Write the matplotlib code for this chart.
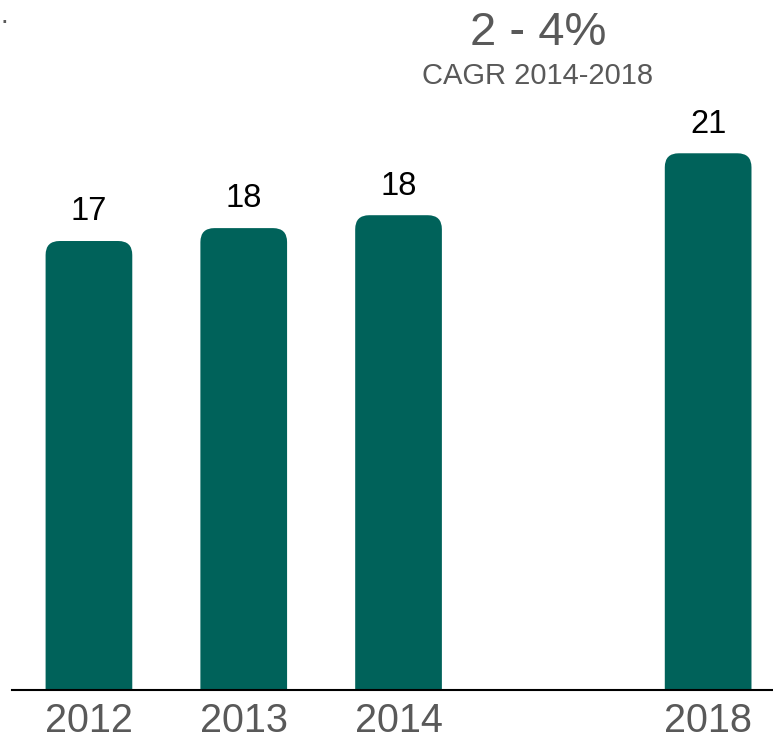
import numpy as np
import matplotlib
matplotlib.use("Agg")
import matplotlib.pyplot as plt
from matplotlib.patches import FancyBboxPatch

plt.rcParams['font.family'] = ['Liberation Sans', 'DejaVu Sans']

### Data
years = ['2012', '2013', '2014', '2018']
slots = [0, 1, 2, 4]
values = [17.4, 17.9, 18.4, 20.8]
value_labels = ['17', '18', '18', '21']
cagr_text = '2 - 4%'
cagr_sub = 'CAGR 2014-2018'

bar_color = '#00625A'
grey = '#595959'

fig = plt.figure(figsize=(7.73, 7.35), dpi=100)
ax = fig.add_axes([12 / 773, 45 / 735, 1 - 12 / 773, 690 / 735])
ax.set_xlim(-0.497, 4.419)
ax.set_ylim(0, 26.74)

width = 0.56
bars = ax.bar(slots, values, width=width, color=bar_color)

# swap plain bars for ones with rounded top corners
px_x = (ax.get_xlim()[1] - ax.get_xlim()[0]) / 761
px_y = (ax.get_ylim()[1] - ax.get_ylim()[0]) / 690
aspect = px_y / px_x
for b in bars:
    b.set_visible(False)
    x0, w, h = b.get_x(), b.get_width(), b.get_height()
    patch = FancyBboxPatch((x0, -2), w, h + 2,
                           boxstyle="round,pad=0,rounding_size=%f" % (14 * px_x),
                           mutation_aspect=aspect,
                           fc=bar_color, ec='none')
    ax.add_patch(patch)

for s, v, lab in zip(slots, values, value_labels):
    ax.annotate(lab, (s, v), xytext=(0, 21), textcoords='offset points',
                ha='center', va='center', fontsize=23.5, color='black')

ax.set_xticks(slots)
ax.set_xticklabels(years, fontsize=28.5, color=grey)
ax.tick_params(axis='x', length=0, pad=9)
ax.set_yticks([])
for side in ['top', 'right', 'left']:
    ax.spines[side].set_visible(False)
ax.spines['bottom'].set_linewidth(1.5)
ax.spines['bottom'].set_color('black')

fig.text(538 / 773, 1 - 33 / 735, cagr_text, ha='center', va='center',
         fontsize=34, color=grey)
fig.text(538 / 773, 1 - 76 / 735, cagr_sub, ha='center', va='center',
         fontsize=21, color=grey)
fig.text(4 / 773, 1 - 16 / 735, '.', ha='center', va='center',
         fontsize=20, color=grey)

fig.savefig('out.png', dpi=100)
